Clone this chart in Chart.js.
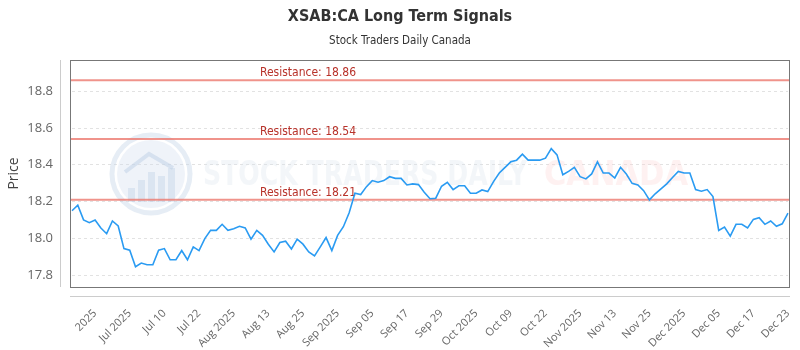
<!DOCTYPE html>
<html>
<head>
<meta charset="utf-8">
<script src="https://cdn.jsdelivr.net/npm/chart.js@4"></script>
<style>
  html, body { margin: 0; padding: 0; background: #fff; }
  #wrap { width: 800px; height: 350px; }
</style>
</head>
<body>
<div id="wrap"><canvas id="myLineChart"></canvas></div>
<script>
const narrowFont = '"Liberation Sans Narrow", "DejaVu Sans Condensed", Roboto, sans-serif'

const tickLabels = ['2025', 'Jul 2025', 'Jul 10', 'Jul 22', 'Aug 2025', 'Aug 13', 'Aug 25',
  'Sep 2025', 'Sep 05', 'Sep 17', 'Sep 29', 'Oct 2025', 'Oct 09', 'Oct 22', 'Nov 2025',
  'Nov 13', 'Nov 25', 'Dec 2025', 'Dec 05', 'Dec 17', 'Dec 23']

const prices = [
  18.15, 18.18, 18.10, 18.085, 18.10, 18.056, 18.025, 18.094, 18.067, 17.944,
  17.935, 17.845, 17.865, 17.856, 17.856, 17.935, 17.944, 17.883, 17.883, 17.933,
  17.883, 17.953, 17.933, 17.998, 18.043, 18.043, 18.076, 18.043, 18.052, 18.065,
  18.056, 17.995, 18.043, 18.016, 17.968, 17.926, 17.977, 17.984, 17.942, 17.995,
  17.968, 17.926, 17.904, 17.953, 18.004, 17.933, 18.016, 18.063, 18.139, 18.245,
  18.238, 18.281, 18.314, 18.305, 18.314, 18.335, 18.326, 18.326, 18.290, 18.296,
  18.292, 18.250, 18.215, 18.218, 18.283, 18.305, 18.265, 18.286, 18.286, 18.245,
  18.245, 18.263, 18.254, 18.308, 18.355, 18.386, 18.416, 18.425, 18.458, 18.425,
  18.425, 18.425, 18.436, 18.488, 18.454, 18.346, 18.364, 18.386, 18.335, 18.323,
  18.350, 18.416, 18.355, 18.355, 18.328, 18.386, 18.350, 18.299, 18.290, 18.259,
  18.209, 18.242, 18.269, 18.296, 18.331, 18.364, 18.355, 18.355, 18.265, 18.256,
  18.265, 18.227, 18.043, 18.061, 18.012, 18.076, 18.076, 18.056, 18.103, 18.112,
  18.076, 18.094, 18.065, 18.079, 18.137
]

const resistanceLevels = [18.86, 18.54, 18.21]
const yTicks = [17.8, 18.0, 18.2, 18.4, 18.6, 18.8]

// one category per point, a label on every 6th one
const categories = prices.map((p, i) => ((i - 4) % 6 === 0 ? tickLabels[(i - 4) / 6] : ''))

const watermark = {
  id: 'watermark',
  beforeDatasetsDraw(chart) {
    const ctx = chart.ctx
    const area = chart.chartArea
    ctx.save()
    // logo ring
    const cx = area.left + 79, cy = 174
    ctx.strokeStyle = 'rgba(200,215,232,0.45)'
    ctx.lineWidth = 5
    ctx.beginPath()
    ctx.arc(cx, cy, 39, 0, Math.PI * 2)
    ctx.stroke()
    ctx.fillStyle = 'rgba(210,222,238,0.35)'
    ctx.beginPath()
    ctx.arc(cx, cy, 34, 0, Math.PI * 2)
    ctx.fill()
    ctx.fillStyle = 'rgba(190,208,230,0.4)'
    const bars = [[-20, 14], [-10, 22], [0, 30], [10, 26], [20, 34]]
    bars.forEach(([dx, h]) => ctx.fillRect(cx + dx - 3, cy + 28 - h, 7, h))
    ctx.strokeStyle = 'rgba(190,208,230,0.5)'
    ctx.lineWidth = 4
    ctx.beginPath()
    ctx.moveTo(cx - 26, cy - 2)
    ctx.lineTo(cx - 2, cy - 20)
    ctx.lineTo(cx + 22, cy - 6)
    ctx.stroke()
    // text
    ctx.font = 'bold 34px ' + narrowFont
    ctx.textBaseline = 'middle'
    ctx.textAlign = 'left'
    let t1 = 'STOCK TRADERS DAILY'
    let w1 = ctx.measureText(t1).width
    ctx.fillStyle = 'rgba(215,224,236,0.3)'
    ctx.save()
    ctx.translate(203, 176)
    ctx.scale(324 / w1, 1)
    ctx.fillText(t1, 0, 0)
    ctx.restore()
    let t2 = 'CANADA'
    let w2 = ctx.measureText(t2).width
    ctx.fillStyle = 'rgba(252,210,210,0.3)'
    ctx.save()
    ctx.translate(544, 176)
    ctx.scale(144 / w2, 1)
    ctx.fillText(t2, 0, 0)
    ctx.restore()

    // resistance lines
    const y = chart.scales.y
    resistanceLevels.forEach((lvl) => {
      const py = y.getPixelForValue(lvl)
      ctx.strokeStyle = 'rgba(236,120,110,0.8)'
      ctx.lineWidth = 2
      ctx.beginPath()
      ctx.moveTo(area.left - 2, py)
      ctx.lineTo(area.right + 2, py)
      ctx.stroke()
      ctx.fillStyle = '#b8322a'
      ctx.font = '12px ' + narrowFont
      ctx.textAlign = 'center'
      ctx.textBaseline = 'bottom'
      ctx.fillText('Resistance: ' + lvl.toFixed(2), 308, py - 1)
    })
    ctx.restore()
  },
  afterDraw(chart) {
    const ctx = chart.ctx
    const a = chart.chartArea
    ctx.save()
    ctx.strokeStyle = '#777'
    ctx.lineWidth = 1
    ctx.strokeRect(a.left - 1.5, a.top + 0.5, a.right - a.left + 3, a.bottom - a.top)
    ctx.strokeStyle = '#ccc'
    ctx.beginPath()
    ctx.moveTo(a.left - 11.5, a.top)
    ctx.lineTo(a.left - 11.5, a.bottom)
    ctx.moveTo(a.left - 2, a.bottom + 9.5)
    ctx.lineTo(a.right + 2, a.bottom + 9.5)
    ctx.stroke()
    ctx.restore()
  }
}

const ctx = document.getElementById('myLineChart').getContext('2d')
let lineChart = new Chart(ctx, {
  type: 'line',
  data: {
    labels: categories,
    datasets: [
      {
        label: 'XSAB:CA',
        data: prices,
        borderColor: '#2a9bf2',
        borderWidth: 1.6,
        pointRadius: 0,
        tension: 0,
        fill: false,
      },
    ],
  },
  options: {
    responsive: true,
    maintainAspectRatio: false,
    animation: false,
    layout: { padding: 0 },
    plugins: {
      legend: { display: false },
      tooltip: { enabled: false },
      title: {
        display: true,
        text: 'XSAB:CA Long Term Signals',
        color: '#333',
        font: { family: narrowFont, size: 16, weight: 'bold' },
        padding: { top: 7, bottom: 8 },
      },
      subtitle: {
        display: true,
        text: 'Stock Traders Daily Canada',
        color: '#333',
        font: { family: narrowFont, size: 11.5 },
        padding: { top: 0, bottom: 12 },
      },
    },
    scales: {
      x: {
        grid: { display: false },
        border: { display: false },
        ticks: {
          autoSkip: false,
          maxRotation: 45,
          minRotation: 45,
          padding: 12,
          color: '#666',
          font: { family: '"Open Sans"', size: 11 },
          callback: (v, i) => categories[i] || null,
        },
        afterFit: (scale) => {
          scale.height = 63
          scale.paddingRight = 12
        },
      },
      y: {
        min: 17.735,
        max: 18.97,
        afterBuildTicks: (scale) => { scale.ticks = yTicks.map((v) => ({ value: v })) },
        grid: { color: '#e2e2e2', drawTicks: false },
        border: { display: false, dash: [3, 3] },
        ticks: {
          padding: 19,
          color: '#666',
          font: { family: '"Open Sans"', size: 13 },
          callback: (v) => v.toFixed(1),
        },
        title: {
          display: true,
          text: 'Price',
          color: '#444',
          font: { family: '"Open Sans"', size: 14 },
          padding: { top: 6, bottom: 0 },
        },
        afterFit: (scale) => { scale.width = 72 },
      },
    },
  },
  plugins: [watermark],
})
</script>
</body>
</html>
